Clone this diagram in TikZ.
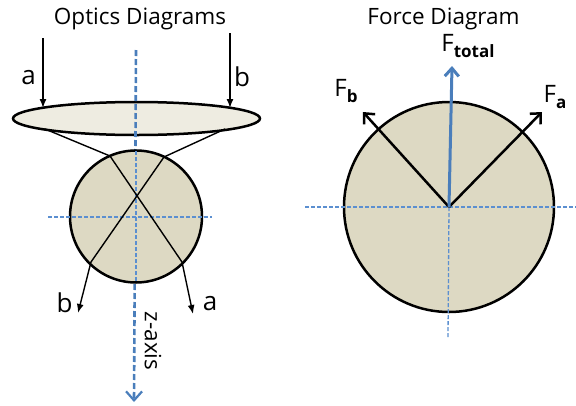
\documentclass[tikz,border=0pt]{standalone}
\usepackage{fontspec}
\setmainfont{Open Sans}
\usetikzlibrary{arrows.meta}
\definecolor{tanfill}{HTML}{DDD9C3}
\definecolor{lensfill}{HTML}{EEECE1}
\definecolor{axblue}{HTML}{4A7EBB}
\definecolor{thinblue}{HTML}{5B8FD0}
\newcommand{\subbf}[1]{\raisebox{-0.45ex}{\fontsize{17}{17}\selectfont\bfseries #1}}
\tikzset{
  titletext/.style={inner sep=0pt, font=\fontsize{22.5}{26}\selectfont},
  labeltext/.style={inner sep=0pt, font=\fontsize{26}{30}\selectfont},
  forcetext/.style={inner sep=0pt, font=\fontsize{24}{28}\selectfont},
  body/.style={draw=black, line width=2.5pt, fill=tanfill},
  lens/.style={draw=black, line width=2.5pt, fill=lensfill},
  thindash/.style={draw=thinblue, line width=1.3pt, dash pattern=on 4pt off 2pt},
  zaxis/.style={draw=axblue, line width=2.6pt, dash pattern=on 6pt off 3pt,
    -{Straight Barb[length=9pt,width=16pt,line width=2.2pt]}},
  ray/.style={draw=black, line width=1.4pt, -{Latex[length=9pt,width=7pt]}},
  force/.style={draw=black, line width=2.5pt, -{Straight Barb[length=8pt,width=15pt]}},
  total/.style={draw=axblue, line width=3pt, -{Straight Barb[length=8pt,width=14pt]}},
}
\begin{document}
\begin{tikzpicture}[x=1pt,y=-1pt]
\useasboundingbox (0,0) rectangle (576,405);
% ---------- Optics ----------
\node[titletext] (t1) at (140,19) {Optics Diagrams};
\draw[lens] (136.5,118.5) ellipse [x radius=123.5, y radius=16.5];
\coordinate (aTop) at (43,38);
\coordinate (aLens) at (43,108);
\coordinate (bTop) at (230,33);
\coordinate (bLens) at (230,108);
\draw[ray] (aTop) -- (aLens);
\draw[ray] (bTop) -- (bLens);
\node[labeltext] (la) at (28.5,78) {a};
\node[labeltext] (lb) at (242,77) {b};
\coordinate (zTop) at (136,50);
\coordinate (zBot) at (134,402);
\draw[zaxis] (zTop) -- (zBot);
\node[titletext, rotate=-90] (zl) at (153,341) {z-axis};
\coordinate (oc) at (136,216.5);
\draw[body] (oc) circle [radius=66];
\draw[thindash] (136,151) -- (136,282);
\draw[thindash] (48,217) -- (212,217);
% rays
\coordinate (aL) at (45,129);
\coordinate (aIn) at (110,156);
\coordinate (aOut) at (182,262);
\coordinate (aEnd) at (193,314);
\coordinate (bL) at (225,129);
\coordinate (bIn) at (164,157);
\coordinate (bOut) at (91,262);
\coordinate (bEnd) at (78,313);
\draw[ray] (aL) -- (aIn) -- (aOut) -- (aEnd);
\draw[ray] (bL) -- (bIn) -- (bOut) -- (bEnd);
\node[labeltext] (la2) at (210,304) {a};
\node[labeltext] (lb2) at (64.5,303) {b};
% ---------- Force ----------
\node[titletext] (t2) at (443.5,19) {Force Diagram};
\coordinate (fc) at (449,207);
\draw[body] (fc) circle [radius=105];
\draw[thindash] (305,207) -- (576,207);
\draw[thindash] (448,337) -- (fc);
\coordinate (faTip) at (542,112);
\coordinate (fbTip) at (363,112);
\coordinate (ftTip) at (452,66);
\draw[force] (fc) -- (faTip);
\draw[force] (fc) -- (fbTip);
\draw[total] (fc) -- (ftTip);
\node[forcetext] (fa) at (555,97) {F\subbf{a}};
\node[forcetext] (fb) at (346,91) {F\subbf{b}};
\node[forcetext] (ft) at (468,46) {F\subbf{total}};
\end{tikzpicture}
\end{document}
